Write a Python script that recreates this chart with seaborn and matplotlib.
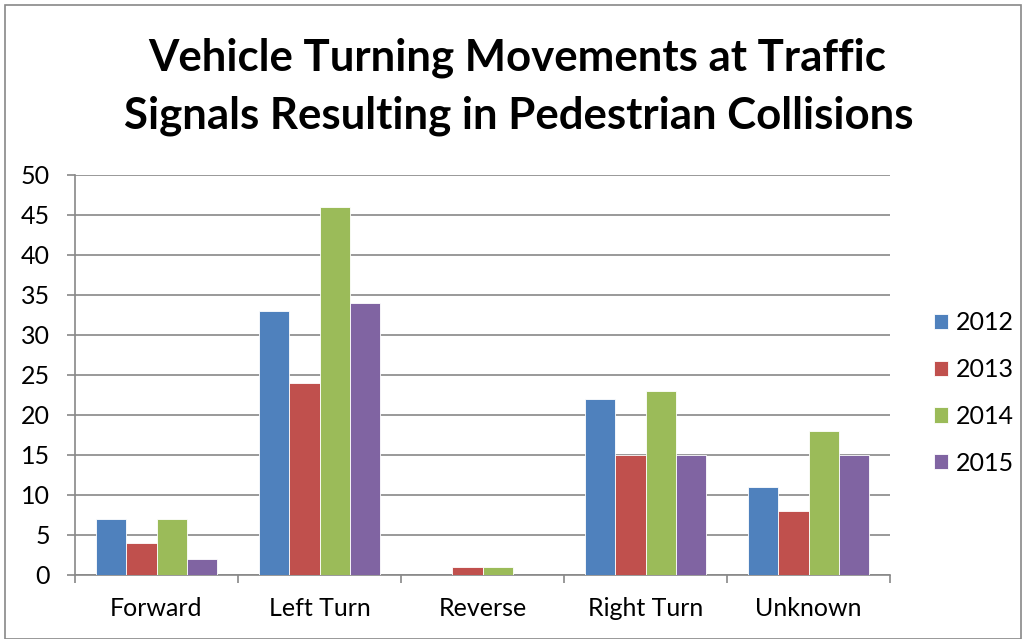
import numpy as np
import pandas as pd
import matplotlib
matplotlib.use("Agg")
from matplotlib import pyplot as plt
from matplotlib.patches import Rectangle
import seaborn as sns

movements = ["Forward", "Left Turn", "Reverse", "Right Turn", "Unknown"]
years = ["2012", "2013", "2014", "2015"]
counts_2012 = [7, 33, 0, 22, 11]
counts_2013 = [4, 24, 1, 15, 8]
counts_2014 = [7, 46, 1, 23, 18]
counts_2015 = [2, 34, 0, 15, 15]
colors = ["#4F81BD", "#C0504D", "#9BBB59", "#8064A2"]

rows = []
for yr, vals in zip(years, [counts_2012, counts_2013, counts_2014, counts_2015]):
    for m, v in zip(movements, vals):
        rows.append({"Movement": m, "Year": yr, "Count": v})
df = pd.DataFrame(rows)

sns.set_theme(style="white")
plt.rcParams["font.family"] = ["Lato", "DejaVu Sans"]
plt.rcParams["text.color"] = "black"

fig = plt.figure(figsize=(10.28, 6.39), dpi=100)
ax = fig.add_axes([75 / 1028, 1 - 575 / 639, (890 - 75) / 1028, 400 / 639])

sns.barplot(data=df, x="Movement", y="Count", hue="Year", palette=colors,
            saturation=1, width=0.74, edgecolor="white", linewidth=0.6,
            ax=ax, zorder=3)

ax.set_ylim(0, 50)
ax.set_xlim(-0.5, 4.5)
ax.set_yticks(range(0, 51, 5))
ax.yaxis.grid(True, color="#888888", linewidth=1.2, zorder=0)
ax.set_axisbelow(True)
for s in ["top", "right"]:
    ax.spines[s].set_visible(False)
for s in ["left", "bottom"]:
    ax.spines[s].set_color("#888888")
    ax.spines[s].set_linewidth(1.2)
ax.set_xlabel("")
ax.set_ylabel("")
ax.tick_params(axis="y", which="major", left=True, length=6, width=1.2,
               color="#888888", labelsize=18, pad=12)
ax.tick_params(axis="x", which="major", bottom=False, labelsize=18, pad=10)
ax.set_xticks(np.arange(-0.5, 5.0, 1.0), minor=True)
ax.tick_params(axis="x", which="minor", bottom=True, length=6, width=1.2,
               color="#888888")
for lbl in ax.get_yticklabels() + ax.get_xticklabels():
    lbl.set_color("black")

leg = ax.legend(title=None, loc="center left", bbox_to_anchor=(1.054, 0.455),
                frameon=False, fontsize=18, handlelength=0.56, handleheight=0.56,
                handletextpad=0.3, labelspacing=0.95, borderaxespad=0,
                borderpad=0)

fig.text(0.503, 1 - 58 / 639, "Vehicle Turning Movements at Traffic",
         ha="center", va="center", fontsize=31.5, fontweight="bold")
fig.text(0.505, 1 - 116 / 639, "Signals Resulting in Pedestrian Collisions",
         ha="center", va="center", fontsize=31.5, fontweight="bold")

fig.patches.append(Rectangle((5 / 1028, 0), 1016 / 1028, 1 - 5 / 639,
                             transform=fig.transFigure, fill=False,
                             edgecolor="#888888", linewidth=1.2))

fig.savefig("out.png", dpi=100)
